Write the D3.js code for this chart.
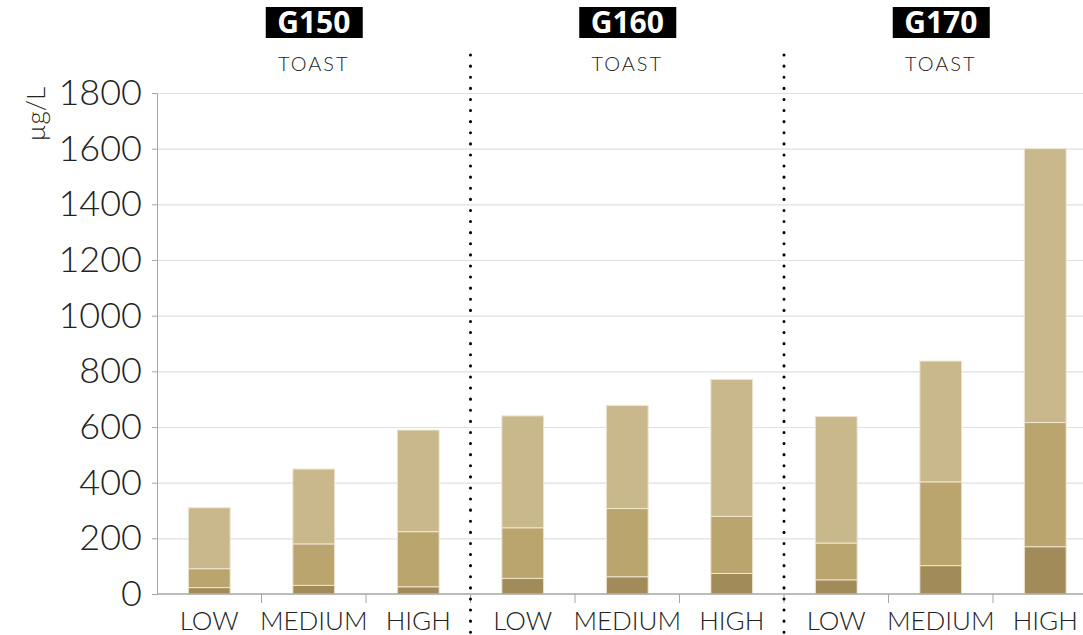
<!DOCTYPE html>
<html>
<head>
<meta charset="utf-8">
<script src="https://cdn.jsdelivr.net/npm/d3@7"></script>
<style>
  body { margin: 0; background: #fff; }
  svg { display: block; font-family: Lato, "Open Sans", sans-serif; }
</style>
</head>
<body>
<svg id="chart" width="1083" height="635"></svg>
<script>
// groups and categories
var groups = ["G150", "G160", "G170"];
var levels = ["LOW", "MEDIUM", "HIGH"];
var yTicks = [0, 200, 400, 600, 800, 1000, 1200, 1400, 1600, 1800];

// stacked segment values (µg/L), bottom -> top, per bar in order G150 LOW..G170 HIGH
var bottomVals = [23, 31, 26, 56, 62, 74, 51, 102, 170];
var middleVals = [68, 149, 198, 182, 245, 205, 132, 301, 446];
var topVals = [219, 269, 365, 402, 370, 492, 455, 434, 984];

var colors = ["#a08b59", "#baa56f", "#c9b88b"];

var svg = d3.select("#chart");
var margin = { left: 157, top: 93, bottom: 41 };
var height = 635 - margin.bottom;

var keys = [];
var rows = [];
groups.forEach(function (g) {
  levels.forEach(function (l) {
    keys.push(g + "|" + l);
  });
});
keys.forEach(function (k, i) {
  rows.push({ key: k, level: k.split("|")[1], a: bottomVals[i], b: middleVals[i], c: topVals[i] });
});

var x = d3.scaleBand().domain(keys).range([margin.left, margin.left + 9 * 104.5]).paddingInner(0.6).paddingOuter(0.3);
var y = d3.scaleLinear().domain([0, 1800]).range([height, margin.top]);

// gridlines
svg.append("g")
  .selectAll("line")
  .data(yTicks.slice(1))
  .enter()
  .append("line")
  .attr("x1", margin.left)
  .attr("x2", 1083)
  .attr("y1", function (d) { return y(d) + 0.5; })
  .attr("y2", function (d) { return y(d) + 0.5; })
  .attr("stroke", "#e0e0e0")
  .attr("stroke-width", 1.2);

// bars
var stack = d3.stack().keys(["a", "b", "c"]);
var series = stack(rows);

svg.append("g")
  .selectAll("g")
  .data(series)
  .enter()
  .append("g")
  .attr("fill", function (d, i) { return colors[i]; })
  .selectAll("rect")
  .data(function (d) { return d; })
  .enter()
  .append("rect")
  .attr("x", function (d) { return x(d.data.key); })
  .attr("width", x.bandwidth())
  .attr("y", function (d) { return y(d[1]); })
  .attr("height", function (d) { return y(d[0]) - y(d[1]); })
  .attr("stroke", "#efe6cf")
  .attr("stroke-width", 1);

// y axis
var yAxis = d3.axisLeft(y).tickValues(yTicks).tickFormat(d3.format("d")).tickSize(5).tickPadding(10);
var gY = svg.append("g")
  .attr("transform", "translate(" + margin.left + ",0)")
  .call(yAxis);
gY.select(".domain").attr("stroke", "#a6a6a6");
gY.selectAll(".tick line").attr("stroke", "#a6a6a6");
gY.selectAll("text")
  .attr("font-size", 36)
  .attr("font-weight", 300)
  .attr("fill", "#222")
  .attr("font-family", "Lato, sans-serif");

// x axis
var gX = svg.append("g").attr("transform", "translate(0," + height + ")");
gX.append("line")
  .attr("x1", margin.left)
  .attr("x2", 1083)
  .attr("stroke", "#a6a6a6")
  .attr("stroke-width", 1.5);
var step = x.step();
gX.selectAll(".tk")
  .data(d3.range(1, 9))
  .enter()
  .append("line")
  .attr("x1", function (d) { return margin.left + d * step; })
  .attr("x2", function (d) { return margin.left + d * step; })
  .attr("y1", 0)
  .attr("y2", 9)
  .attr("stroke", "#a6a6a6");
gX.selectAll("text")
  .data(rows)
  .enter()
  .append("text")
  .attr("x", function (d) { return x(d.key) + x.bandwidth() / 2; })
  .attr("y", 36)
  .attr("text-anchor", "middle")
  .attr("font-size", 26)
  .attr("font-weight", 300)
  .attr("fill", "#222")
  .text(function (d) { return d.level; });

// y label
svg.append("text")
  .attr("transform", "translate(45,114) rotate(-90)")
  .attr("text-anchor", "middle")
  .attr("font-size", 26)
  .attr("font-weight", 300)
  .attr("fill", "#222")
  .text("µg/L");

// dotted separators
[3, 6].forEach(function (i) {
  svg.append("line")
    .attr("x1", margin.left + i * step)
    .attr("x2", margin.left + i * step)
    .attr("y1", 55)
    .attr("y2", 635)
    .attr("stroke", "#000")
    .attr("stroke-width", 3)
    .attr("stroke-linecap", "round")
    .attr("stroke-dasharray", "0.1 11");
});

// group headers
groups.forEach(function (g, i) {
  var cx = margin.left + (i * 3 + 1.5) * step;
  svg.append("rect")
    .attr("x", cx - 48)
    .attr("y", 7)
    .attr("width", 97)
    .attr("height", 31)
    .attr("fill", "#000");
  svg.append("text")
    .attr("x", cx)
    .attr("y", 33)
    .attr("text-anchor", "middle")
    .attr("font-size", 30)
    .attr("font-weight", 700)
    .attr("font-family", "'Open Sans', sans-serif")
    .attr("fill", "#fff")
    .text(g);
  svg.append("text")
    .attr("x", cx)
    .attr("y", 71)
    .attr("text-anchor", "middle")
    .attr("font-size", 20)
    .attr("font-weight", 300)
    .attr("letter-spacing", 2)
    .attr("fill", "#222")
    .text("TOAST");
});
</script>
</body>
</html>
